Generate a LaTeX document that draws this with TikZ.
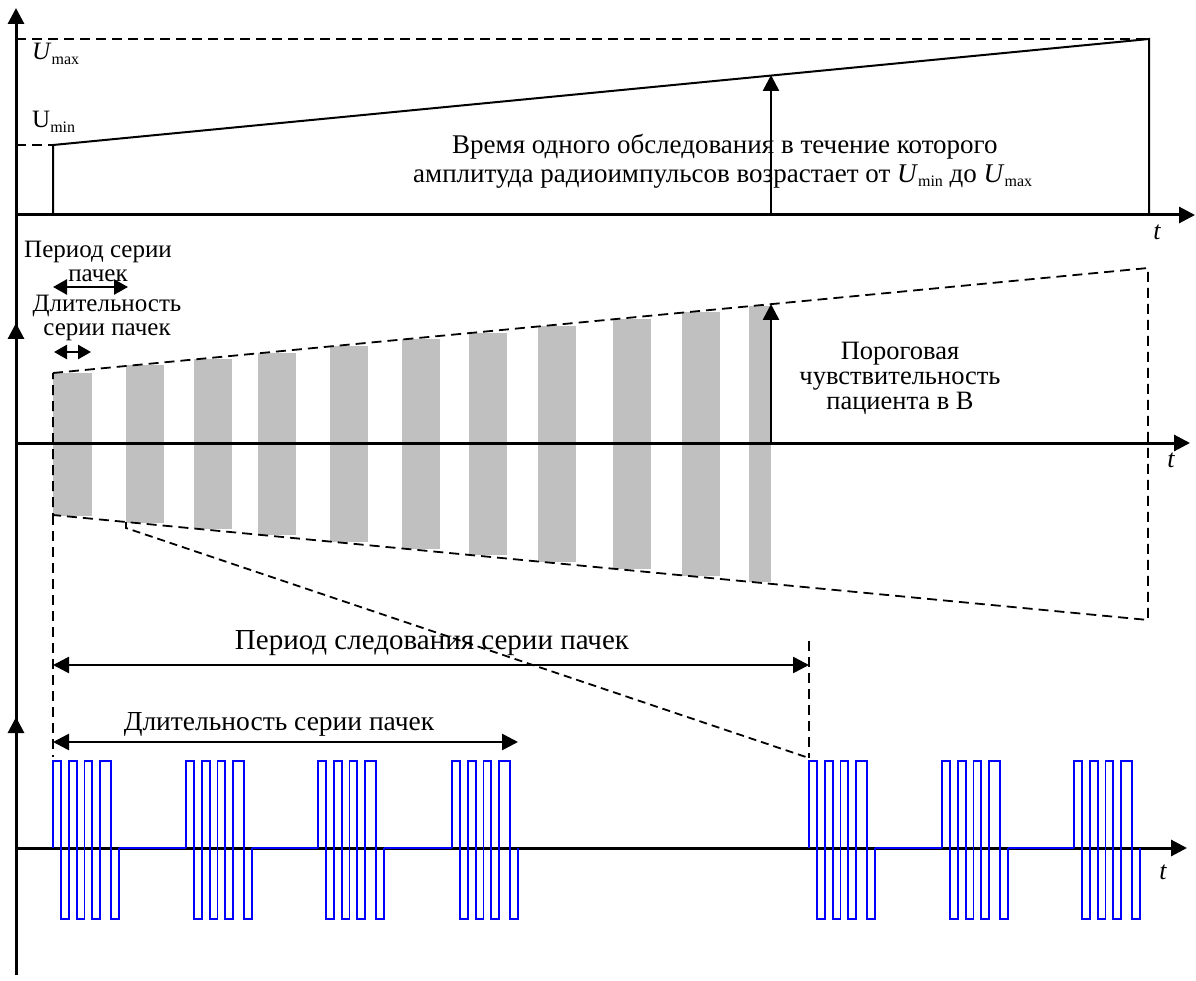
\documentclass[tikz,border=0pt]{standalone}
\usepackage{fontspec}
\setmainfont{Liberation Serif}
\usetikzlibrary{arrows.meta}
\definecolor{barc}{RGB}{192,192,192}
\newcommand\mysub[1]{\raisebox{-0.35ex}{\fontsize{16}{16}\selectfont #1}}
\begin{document}
\begin{tikzpicture}[x=1pt,y=-1pt,
  >={Triangle[length=16pt,width=16pt]},
  axis/.style={line width=3pt},
  sline/.style={line width=2pt},
  aline/.style={line width=2.6pt},
  dline/.style={line width=1.8pt,dash pattern=on 10pt off 6pt},
  pulse/.style={draw=blue,line width=1.8pt},
  lbl/.style={inner sep=0pt,font=\fontsize{25}{24}\selectfont,align=center},
  tlbl/.style={inner sep=0pt,font=\fontsize{26}{26}\selectfont\itshape}]
\useasboundingbox (0,0) rectangle (1196,981);
\fill[white] (0,0) rectangle (1196,981);

% ---------- panel 1
\coordinate (umaxL) at (16,39);
\coordinate (umaxR) at (1149,39);
\coordinate (uminL) at (16,145);
\coordinate (uminR) at (53,145);
\coordinate (b1) at (53,215);
\coordinate (b2) at (1149,215);
\coordinate (m1) at (771,215);
\coordinate (m1t) at (771,75);
\draw[dline] (umaxL) -- (umaxR);
\draw[dline] (uminL) -- (uminR);
\draw[sline] (b1) -- (uminR) -- (umaxR) -- (b2);
\node[inner sep=0pt,anchor=base west,font=\fontsize{25}{25}\selectfont] (umax) at (32,60) {\textit{U}\mysub{max}};
\node[inner sep=0pt,anchor=base west,font=\fontsize{25}{25}\selectfont] (umin) at (32,128) {U\mysub{min}};
\node[inner sep=0pt,anchor=west,align=left,font=\fontsize{27}{29}\selectfont] (txt1) at (413,161)
  {\hspace*{39pt}Время одного обследования в течение которого\\амплитуда радиоимпульсов возрастает от \textit{U}\mysub{min} до \textit{U}\mysub{max}};
\draw[aline,->] (m1) -- (m1t);

% ---------- panel 2
\foreach \a/\b in {53/92,126/164,194/232,258/296,330/368,402/440,469/507,538/576,613/651,682/720,749/771}{
  \pgfmathsetmacro\h{71.5+(\a-53)*0.0959}
  \fill[barc] (\a,{444-\h}) rectangle (\b,{444+\h});
}
\coordinate (e1) at (53,373);
\coordinate (e2) at (1148,268);
\coordinate (e3) at (53,515);
\coordinate (e4) at (1148,620);
\coordinate (d1) at (126,522);
\coordinate (d2) at (126,528);
\coordinate (p5) at (809,758);
\coordinate (p5t) at (809,641);
\coordinate (p1) at (53,757);
\draw[dline] (e1) -- (e2) -- (e4) -- (e3) -- cycle;
\draw[dline] (e3) -- (p1);
\draw[dline,dash pattern=on 8pt off 5pt] (d1) -- (d2) -- (p5);
\draw[dline] (p5t) -- (p5);
\coordinate (m2) at (771,443);
\coordinate (m2t) at (771,304);
\draw[aline,->] (m2) -- (m2t);
\node[lbl,font=\fontsize{26.5}{25}\selectfont] (thr) at (900,378) {Пороговая\\чувствительность\\пациента в В};

\node[lbl] (per1) at (98,261) {Период серии\\пачек};
\node[lbl] (dur1) at (107,318) {Длительность\\серии пачек};
\coordinate (pa) at (53,287);
\coordinate (pb) at (128,287);
\coordinate (da) at (54,352);
\coordinate (db) at (91,352);
\draw[aline,{Triangle[length=14pt,width=15pt]}-{Triangle[length=14pt,width=15pt]}] (pa) -- (pb);
\draw[aline,{Triangle[length=13pt,width=14pt]}-{Triangle[length=13pt,width=14pt]}] (da) -- (db);

% ---------- panel 3
\coordinate (q1) at (53,665);
\coordinate (q2) at (809,665);
\coordinate (r1) at (53,742);
\coordinate (r2) at (518,742);
\draw[aline,<->] (q1) -- (q2);
\draw[aline,<->] (r1) -- (r2);
\node[lbl,anchor=base,font=\fontsize{29}{29}\selectfont] (per2) at (432,649) {Период следования серии пачек};
\node[lbl,anchor=base,font=\fontsize{27.5}{27.5}\selectfont] (dur2) at (279,730) {Длительность серии пачек};

% axes
\coordinate (ya) at (16,975);
\coordinate (yb) at (16,8);
\draw[axis,->] (ya) -- (yb);
\draw[axis,->] (16,345) -- (16,323);
\draw[axis,->] (16,735) -- (16,717);
\coordinate (x1a) at (16,215);
\coordinate (x1b) at (1195,215);
\coordinate (x2a) at (16,443);
\coordinate (x2b) at (1190,443);
\coordinate (x3a) at (16,848);
\coordinate (x3b) at (1187,848);
\draw[axis,->] (x1a) -- (x1b);
\draw[axis,->] (x2a) -- (x2b);
\draw[axis,->] (x3a) -- (x3b);
\node[tlbl] (t1) at (1157,232) {t};
\node[tlbl] (t2) at (1171,460) {t};
\node[tlbl] (t3) at (1163,872) {t};

% pulses
\draw[pulse] (119,848) -- (186,848) (252,848) -- (318,848) (384,848) -- (452,848);
\draw[pulse] (875,848) -- (942,848) (1008,848) -- (1074,848);
\foreach \s in {53,186,318,452,809,942,1074}{
  \draw[pulse] (\s,848) -- (\s,761) -- ({\s+8},761) -- ({\s+8},919) -- ({\s+16},919) -- ({\s+16},761)
    -- ({\s+24},761) -- ({\s+24},919) -- ({\s+31.5},919) -- ({\s+31.5},761) -- ({\s+39},761)
    -- ({\s+39},919) -- ({\s+47},919) -- ({\s+47},761) -- ({\s+58},761) -- ({\s+58},919)
    -- ({\s+66},919) -- ({\s+66},848);
}
\end{tikzpicture}
\end{document}
